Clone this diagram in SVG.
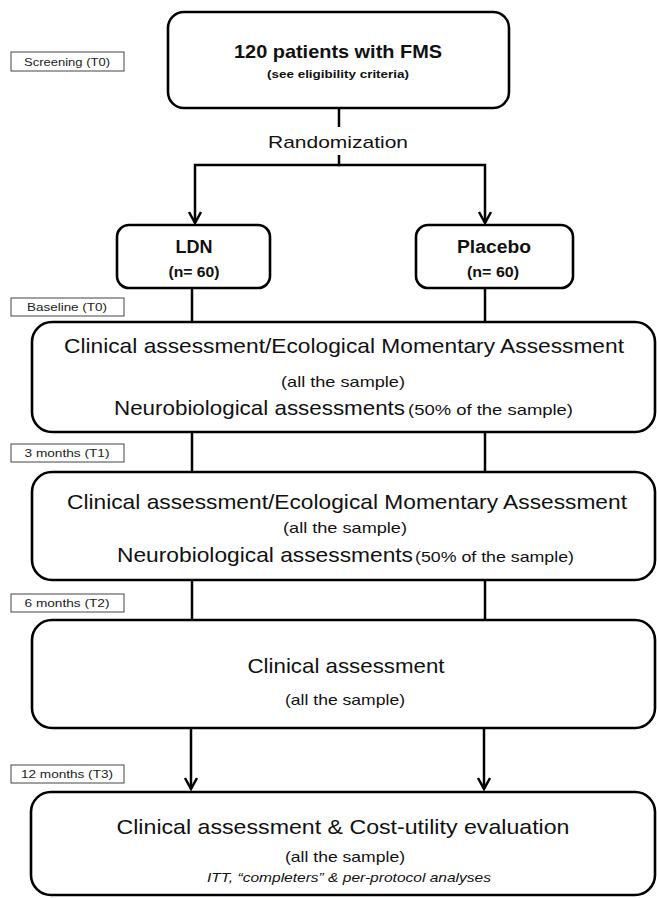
<svg xmlns="http://www.w3.org/2000/svg" width="657" height="898" viewBox="0 0 657 898">
<style>
  .box { fill: #fff; stroke: #000; stroke-width: 2.6; }
  .lbl { fill: #fff; stroke: #444; stroke-width: 1; }
  .lt { font-family: "Liberation Sans", Arial, sans-serif; font-size: 11px; fill: #222; text-anchor: middle; }
  .t { font-family: "Liberation Sans", Arial, sans-serif; fill: #111; text-anchor: middle; }
  .s { text-anchor: start; }
  .b { font-weight: bold; }
  .big { font-size: 21px; }
  .sm { font-size: 15px; }
  .it { font-style: italic; font-size: 13px; }
  .con { fill: none; stroke: #000; stroke-width: 2.5; }
</style>
<defs>
  <marker id="arr" markerWidth="16" markerHeight="16" refX="12" refY="7" orient="auto" markerUnits="userSpaceOnUse">
    <path d="M1,1 L12,7 L1,13" fill="none" stroke="#000" stroke-width="2.5"/>
  </marker>
</defs>
<rect width="657" height="898" fill="#fff"/>

<g id="connectors">
  <line class="con" x1="339" y1="108" x2="339" y2="127"/>
  <line class="con" x1="339" y1="155" x2="339" y2="165"/>
  <path class="con" d="M340,165 L195,165 L195,223" marker-end="url(#arr)"/>
  <path class="con" d="M338,165 L485,165 L485,223" marker-end="url(#arr)"/>
  <line class="con" x1="192" y1="288" x2="192" y2="322"/>
  <line class="con" x1="485" y1="288" x2="485" y2="322"/>
  <line class="con" x1="192" y1="432" x2="192" y2="472"/>
  <line class="con" x1="485" y1="432" x2="485" y2="472"/>
  <line class="con" x1="192" y1="580" x2="192" y2="620"/>
  <line class="con" x1="485" y1="580" x2="485" y2="620"/>
  <line class="con" x1="191" y1="728" x2="191" y2="789" marker-end="url(#arr)"/>
  <line class="con" x1="484" y1="728" x2="484" y2="789" marker-end="url(#arr)"/>
</g>

<g id="label-screening">
  <rect class="lbl" x="11" y="52" width="113" height="19"/>
  <text class="lt" x="67" y="66" textLength="86" lengthAdjust="spacingAndGlyphs">Screening (T0)</text>
</g>
<g id="label-baseline">
  <rect class="lbl" x="11" y="298" width="113" height="18"/>
  <text class="lt" x="67" y="311" textLength="80" lengthAdjust="spacingAndGlyphs">Baseline (T0)</text>
</g>
<g id="label-3months">
  <rect class="lbl" x="11" y="444" width="113" height="18"/>
  <text class="lt" x="67" y="457" textLength="85" lengthAdjust="spacingAndGlyphs">3 months (T1)</text>
</g>
<g id="label-6months">
  <rect class="lbl" x="11" y="594" width="113" height="18"/>
  <text class="lt" x="67" y="607" textLength="85" lengthAdjust="spacingAndGlyphs">6 months (T2)</text>
</g>
<g id="label-12months">
  <rect class="lbl" x="11" y="765" width="113" height="18"/>
  <text class="lt" x="67" y="778" textLength="92" lengthAdjust="spacingAndGlyphs">12 months (T3)</text>
</g>

<g id="node-patients">
  <rect class="box" x="168" y="12" width="341" height="96" rx="16"/>
  <text class="t b" x="338" y="58" font-size="19" textLength="208" lengthAdjust="spacingAndGlyphs">120 patients with FMS</text>
  <text class="t b" x="338" y="78" font-size="11.5" textLength="142" lengthAdjust="spacingAndGlyphs">(see eligibility criteria)</text>
</g>

<g id="node-randomization">
  <text class="t" x="338" y="148" font-size="17" textLength="140" lengthAdjust="spacingAndGlyphs">Randomization</text>
</g>

<g id="node-ldn">
  <rect class="box" x="117" y="225" width="153" height="63" rx="12"/>
  <text class="t b" x="194" y="253" font-size="18" textLength="37" lengthAdjust="spacingAndGlyphs">LDN</text>
  <text class="t b" x="194" y="277" font-size="14" textLength="51" lengthAdjust="spacingAndGlyphs">(n= 60)</text>
</g>

<g id="node-placebo">
  <rect class="box" x="416" y="225" width="157" height="63" rx="12"/>
  <text class="t b" x="494" y="253" font-size="18" textLength="74" lengthAdjust="spacingAndGlyphs">Placebo</text>
  <text class="t b" x="493" y="277" font-size="14" textLength="52" lengthAdjust="spacingAndGlyphs">(n= 60)</text>
</g>

<g id="node-baseline">
  <rect class="box" x="32" y="322" width="623" height="110" rx="20"/>
  <text class="t big" x="344" y="353" textLength="560" lengthAdjust="spacingAndGlyphs">Clinical assessment/Ecological Momentary Assessment</text>
  <text class="t sm" x="343" y="387" textLength="124" lengthAdjust="spacingAndGlyphs">(all the sample)</text>
  <text class="t s big" x="114" y="415" textLength="291" lengthAdjust="spacingAndGlyphs">Neurobiological assessments</text>
  <text class="t s sm" x="408" y="415" textLength="165" lengthAdjust="spacingAndGlyphs">(50% of the sample)</text>
</g>

<g id="node-3months">
  <rect class="box" x="32" y="472" width="623" height="108" rx="20"/>
  <text class="t big" x="347" y="509" textLength="560" lengthAdjust="spacingAndGlyphs">Clinical assessment/Ecological Momentary Assessment</text>
  <text class="t sm" x="345" y="533" textLength="124" lengthAdjust="spacingAndGlyphs">(all the sample)</text>
  <text class="t s big" x="117" y="562" textLength="296" lengthAdjust="spacingAndGlyphs">Neurobiological assessments</text>
  <text class="t s sm" x="415" y="562" textLength="159" lengthAdjust="spacingAndGlyphs">(50% of the sample)</text>
</g>

<g id="node-6months">
  <rect class="box" x="32" y="620" width="623" height="108" rx="20"/>
  <text class="t big" x="346" y="673" textLength="197" lengthAdjust="spacingAndGlyphs">Clinical assessment</text>
  <text class="t sm" x="345" y="705" textLength="120" lengthAdjust="spacingAndGlyphs">(all the sample)</text>
</g>

<g id="node-12months">
  <rect class="box" x="31" y="792" width="624" height="103" rx="20"/>
  <text class="t big" x="343" y="834" textLength="453" lengthAdjust="spacingAndGlyphs">Clinical assessment  &amp; Cost-utility evaluation</text>
  <text class="t sm" x="345" y="862" textLength="120" lengthAdjust="spacingAndGlyphs">(all the sample)</text>
  <text class="t it" x="349" y="882" textLength="284" lengthAdjust="spacingAndGlyphs">ITT, “completers” &amp; per-protocol analyses</text>
</g>
</svg>
